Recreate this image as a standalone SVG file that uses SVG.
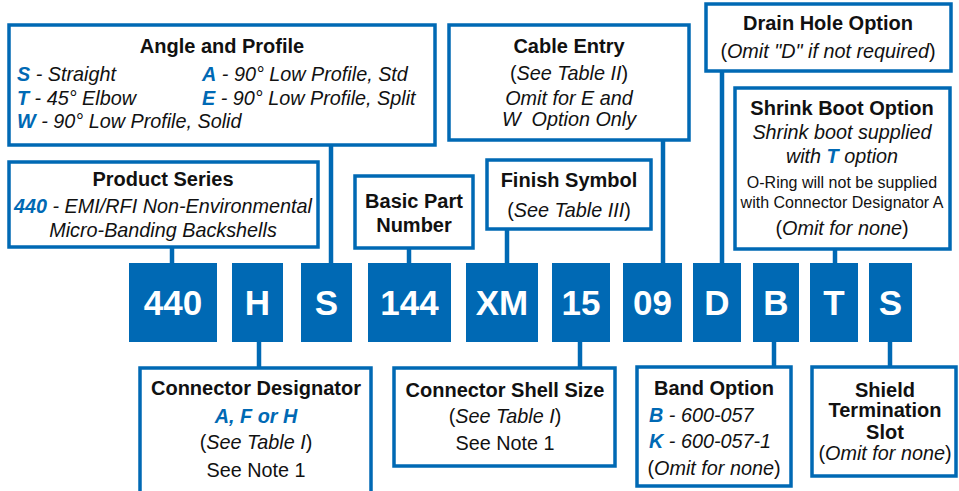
<svg xmlns="http://www.w3.org/2000/svg" width="959" height="491" viewBox="0 0 959 491">
<style>
text{font-family:"Liberation Sans",Arial,sans-serif;fill:#111}
.box{fill:#fff;stroke:#0069b4;stroke-width:3.5}
.code{fill:#0069b4}
.ct{font-size:35px;font-weight:bold;fill:#fff;text-anchor:middle}
.h{font-size:20px;font-weight:bold;text-anchor:middle}
.t{font-size:19.8px;text-anchor:middle}
.tl{font-size:19.8px}
.s{font-size:16px;text-anchor:middle}
.i{font-style:italic}
.b{font-weight:bold;font-style:italic;fill:#0069b4}
.con line{stroke:#0069b4;stroke-width:4.5}
</style>
<rect width="959" height="491" fill="#fff"/>
<g id="connectors" class="con">
<line x1="172" y1="247" x2="172" y2="264"/>
<line x1="331" y1="145" x2="331" y2="264"/>
<line x1="409" y1="248" x2="409" y2="264"/>
<line x1="507" y1="229" x2="507" y2="264"/>
<line x1="663" y1="140" x2="663" y2="264"/>
<line x1="722" y1="71" x2="722" y2="264"/>
<line x1="835" y1="249" x2="835" y2="264"/>
<line x1="259" y1="341" x2="259" y2="368"/>
<line x1="580" y1="341" x2="580" y2="368"/>
<line x1="774" y1="341" x2="774" y2="367"/>
<line x1="890" y1="341" x2="890" y2="367"/>
</g>
<g id="angle-profile">
<rect class="box" x="9" y="25" width="426" height="120"/>
<text class="h" x="222" y="53">Angle and Profile</text>
<text class="tl" x="17" y="81"><tspan class="b">S</tspan><tspan class="i"> - Straight</tspan></text>
<text class="tl" x="17" y="105"><tspan class="b">T</tspan><tspan class="i"> - 45° Elbow</tspan></text>
<text class="tl" x="17" y="128"><tspan class="b">W</tspan><tspan class="i"> - 90° Low Profile, Solid</tspan></text>
<text class="tl" x="202" y="81"><tspan class="b">A</tspan><tspan class="i"> - 90° Low Profile, Std</tspan></text>
<text class="tl" x="202" y="105"><tspan class="b">E</tspan><tspan class="i"> - 90° Low Profile, Split</tspan></text>
</g>
<g id="product-series">
<rect class="box" x="9" y="162" width="309" height="85"/>
<text class="h" x="163" y="186">Product Series</text>
<text class="t" x="163" y="213"><tspan class="b">440</tspan><tspan class="i"> - EMI/RFI Non-Environmental</tspan></text>
<text class="t i" x="163" y="237">Micro-Banding Backshells</text>
</g>
<g id="basic-part">
<rect class="box" x="355" y="176" width="118" height="72"/>
<text class="h" x="414" y="208">Basic Part</text>
<text class="h" x="414" y="232">Number</text>
</g>
<g id="finish-symbol">
<rect class="box" x="487" y="160" width="164" height="69"/>
<text class="h" x="569" y="187">Finish Symbol</text>
<text class="t" x="569" y="217">(<tspan class="i">See Table III</tspan>)</text>
</g>
<g id="cable-entry">
<rect class="box" x="449" y="25" width="240" height="115"/>
<text class="h" x="569" y="53">Cable Entry</text>
<text class="t" x="569" y="80">(<tspan class="i">See Table II</tspan>)</text>
<text class="t i" x="569" y="105">Omit for E and</text>
<text class="t i" x="569" y="126">W&#160; Option Only</text>
</g>
<g id="drain-hole">
<rect class="box" x="706" y="4" width="245" height="67"/>
<text class="h" x="828" y="30">Drain Hole Option</text>
<text class="t" x="828" y="58">(<tspan class="i">Omit "D" if not required</tspan>)</text>
</g>
<g id="shrink-boot">
<rect class="box" x="735" y="88" width="215" height="161"/>
<text class="h" x="842" y="115">Shrink Boot Option</text>
<text class="t i" x="842" y="139">Shrink boot supplied</text>
<text class="t i" x="842" y="163">with <tspan class="b">T</tspan> option</text>
<text class="s" x="842" y="188">O-Ring will not be supplied</text>
<text class="s" x="842" y="208">with Connector Designator A</text>
<text class="t" x="842" y="235">(<tspan class="i">Omit for none</tspan>)</text>
</g>
<g id="code-440"><rect class="code" x="129" y="263" width="88" height="79"/><text class="ct" x="173" y="315">440</text></g>
<g id="code-H"><rect class="code" x="232" y="263" width="51" height="79"/><text class="ct" x="257.5" y="315">H</text></g>
<g id="code-S1"><rect class="code" x="301" y="263" width="51" height="79"/><text class="ct" x="326.5" y="315">S</text></g>
<g id="code-144"><rect class="code" x="368" y="263" width="83" height="79"/><text class="ct" x="409.5" y="315">144</text></g>
<g id="code-XM"><rect class="code" x="466" y="263" width="72" height="79"/><text class="ct" x="502" y="315">XM</text></g>
<g id="code-15"><rect class="code" x="552" y="263" width="58" height="79"/><text class="ct" x="581" y="315">15</text></g>
<g id="code-09"><rect class="code" x="623" y="263" width="59" height="79"/><text class="ct" x="652.5" y="315">09</text></g>
<g id="code-D"><rect class="code" x="693" y="263" width="48" height="79"/><text class="ct" x="717" y="315">D</text></g>
<g id="code-B"><rect class="code" x="753" y="263" width="46" height="79"/><text class="ct" x="776" y="315">B</text></g>
<g id="code-T"><rect class="code" x="810" y="263" width="48" height="79"/><text class="ct" x="834" y="315">T</text></g>
<g id="code-S2"><rect class="code" x="869" y="263" width="43" height="79"/><text class="ct" x="890.5" y="315">S</text></g>
<g id="connector-designator">
<rect class="box" x="140" y="368" width="231" height="126"/>
<text class="h" x="256" y="395">Connector Designator</text>
<text class="t b" x="256" y="423">A, F or H</text>
<text class="t" x="256" y="449">(<tspan class="i">See Table I</tspan>)</text>
<text class="t" x="256" y="477">See Note 1</text>
</g>
<g id="shell-size">
<rect class="box" x="394" y="368" width="221" height="98"/>
<text class="h" x="505" y="397">Connector Shell Size</text>
<text class="t" x="505" y="423">(<tspan class="i">See Table I</tspan>)</text>
<text class="t" x="505" y="450">See Note 1</text>
</g>
<g id="band-option">
<rect class="box" x="637" y="367" width="154" height="119"/>
<text class="h" x="714" y="395">Band Option</text>
<text class="tl" x="649" y="422"><tspan class="b">B</tspan><tspan class="i"> - 600-057</tspan></text>
<text class="tl" x="649" y="448"><tspan class="b">K</tspan><tspan class="i"> - 600-057-1</tspan></text>
<text class="t" x="714" y="475">(<tspan class="i">Omit for none</tspan>)</text>
</g>
<g id="shield-slot">
<rect class="box" x="812" y="367" width="144" height="109"/>
<text class="h" x="885" y="397">Shield</text>
<text class="h" x="885" y="417">Termination</text>
<text class="h" x="885" y="439">Slot</text>
<text class="t" x="885" y="460">(<tspan class="i">Omit for none</tspan>)</text>
</g>
</svg>
